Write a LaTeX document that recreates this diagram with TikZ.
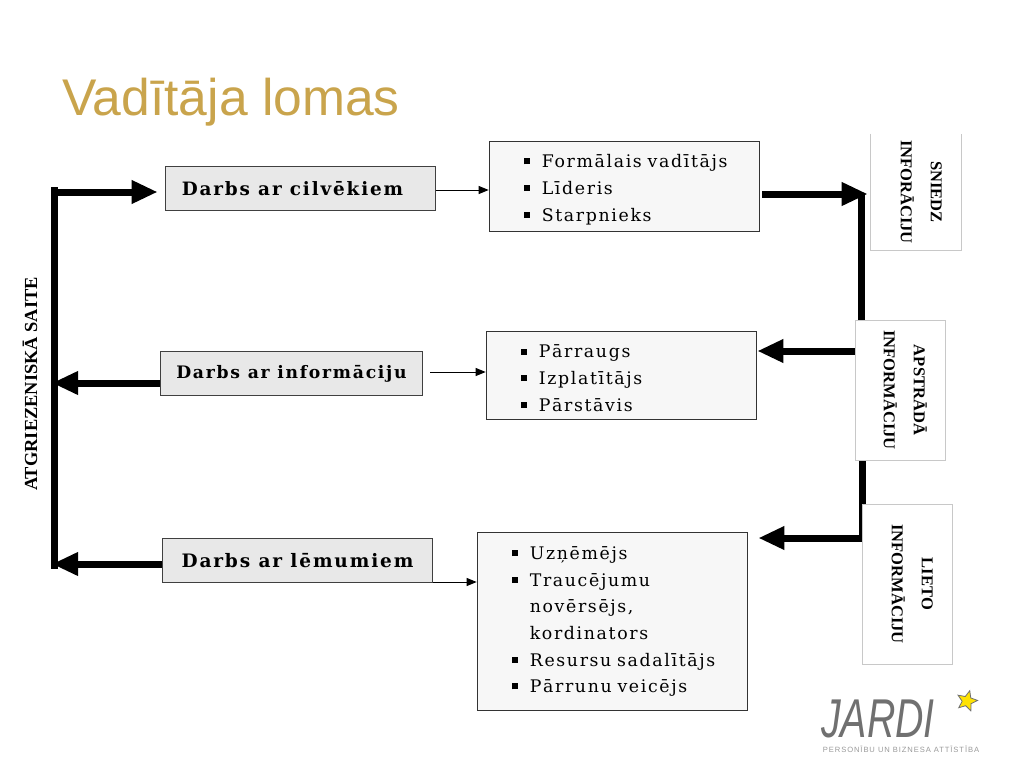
\documentclass[tikz,border=0pt]{standalone}
\usepackage{fontspec}
\usetikzlibrary{arrows.meta,backgrounds,shapes.geometric}
\newfontfamily\sansfont{Liberation Sans}
\newfontfamily\sidefont{Liberation Serif}
\newfontfamily\smallfont[LetterSpace=12]{Liberation Sans}
\newfontfamily\workfont[LetterSpace=10]{DejaVu Serif}
\newfontfamily\rolefont[LetterSpace=9.5]{DejaVu Serif}
\definecolor{titlegold}{HTML}{C9A44C}
\definecolor{logogray}{HTML}{707070}
\definecolor{sidegray}{HTML}{C8C8C8}
\def\blt{\hspace*{13pt}\makebox[13.5pt][l]{\raisebox{2.5pt}{\rule{4.5pt}{4.5pt}}}}
\def\nobl{\hspace*{26.5pt}}
\def\lift{\rule{0pt}{14.5pt}}

\begin{document}
\begin{tikzpicture}[
x=0.75pt,y=-0.75pt,
work/.style={draw=black!75, fill=black!9, line width=0.75pt, minimum height=33.5pt, inner sep=0pt, font=\fontsize{#1}{15pt}\workfont\bfseries},
roles/.style={draw=black!80, fill=black!3, line width=0.75pt, minimum width=203pt, inner xsep=13pt, inner ysep=0pt, text width=177pt, align=left, font=\fontsize{13pt}{20pt}\rolefont},
side/.style={fill=white, rotate=-90, inner sep=0pt, align=center, text depth=8pt, font=\fontsize{12.4pt}{22.5pt}\sidefont\bfseries},
sideline/.style={draw=sidegray, line width=0.75pt},
heavy/.style={line width=5.25pt},
heavytip/.style={heavy, -{Triangle[length=19.5pt,width=16.5pt]}},
thin/.style={line width=0.75pt, -{Triangle[length=7.5pt,width=6pt]}},
]
\useasboundingbox (0,0) rectangle (1024,768);

\node[anchor=base west, font=\fontsize{38.7pt}{40pt}\sansfont, text=titlegold, inner sep=0pt] at (62,115) (title) {Vadītāja lomas};

% Work boxes:
\node[work=13.8pt, minimum width=203pt] at (300.5,188.5) (people) {\hspace*{-12pt}Darbs ar cilvēkiem};
\node[work=12.9pt, minimum width=196pt] at (291.5,373.5) (info) {Darbs ar informāciju};
\node[work=13.9pt, minimum width=203pt] at (297.5,560.5) (decide) {Darbs ar lēmumiem};

% Role boxes:
\node[roles, minimum height=67pt] at (624.5,186.5) (rolesa) {\lift\blt Formālais vadītājs\\\blt Līderis\\\blt Starpnieks};
\node[roles, minimum height=66pt] at (621.5,375) (rolesb) {\lift\blt Pārraugs\\\blt Izplatītājs\\\blt Pārstāvis};
\node[roles, minimum height=134pt] at (612.5,621.5) (rolesc) {\blt Uzņēmējs\\\blt Traucējumu\\\nobl novērsējs,\\\nobl kordinators\\\blt Resursu sadalītājs\\\blt Pārrunu veicējs};

% Side boxes:
\node[side, minimum width=87pt, minimum height=67.5pt] at (916,192) (give) {SNIEDZ\\INFORĀCIJU};
\node[side, draw=sidegray, line width=0.75pt, minimum width=105pt, minimum height=67.5pt] at (900,390) (process) {APSTRĀDĀ\\INFORMĀCIJU};
\node[side, draw=sidegray, line width=0.75pt, minimum width=120pt, minimum height=67.5pt] at (907,584) (use) {LIETO\\INFORMĀCIJU};
\draw[sideline] (give.south west) -- (give.south east) -- (give.north east) -- (give.north west);

\node[rotate=90, inner sep=0pt, font=\fontsize{13.8pt}{14pt}\sidefont\bfseries] at (30,384) (loop) {ATGRIEZENISKĀ SAITE};

\coordinate (looptop) at (54,192);
\coordinate (loopend) at (54,569);
\coordinate (jointop) at (861,194);
\coordinate (joinlow) at (862,538);

% Thick lines:
\begin{pgfonlayer}{background}
\draw[heavy] ([yshift=3.75pt]looptop) -- (loopend);
\draw[heavy] (jointop) -- (jointop |- process.west);
\draw[heavy] (joinlow |- process.east) -- ([yshift=-2.6pt]joinlow);
\draw[heavytip, shorten >=5.25pt] (looptop) -- (looptop -| people.west);
\draw[heavytip, shorten >=-1.5pt] (info.west |- 0,383) -- (looptop |- 0,383);
\draw[heavytip, shorten >=-1.5pt] (decide.west |- 0,564) -- (looptop |- 0,564);
\draw[heavytip, shorten <=1.5pt, shorten >=2.25pt] (rolesa.east |- jointop) -- (give.south |- jointop);
\draw[heavytip, shorten >=0pt] (process.south |- 0,351) -- (rolesb.east |- 0,351);
\draw[heavytip, shorten >=7.5pt] (joinlow) -- (rolesc.east |- joinlow);
\end{pgfonlayer}

% Thin arrows:
\draw[thin] (people.east |- 0,190) -- (rolesa.west |- 0,190);
\draw[thin] (430,372) -- (rolesb.west |- 0,372);
\draw[thin] (decide.east |- 0,582) -- (rolesc.west |- 0,582);

% Logo:
\node[xscale=0.72, inner sep=0pt, anchor=base, text depth=0pt, text=logogray, font=\fontsize{41pt}{44pt}\sansfont\itshape] at (878,737) (logo) {JARDI};
\node[star, star points=5, star point ratio=2.2, rotate=-15, draw=logogray, fill=yellow!85!orange, line width=0.6pt, inner sep=0pt, minimum size=16pt] at (967,701) (logostar) {};
\node[inner sep=0pt, text=black!40, font=\fontsize{5.7pt}{6pt}\smallfont] at (901,749) (logotext) {PERSONĪBU UN BIZNESA ATTĪSTĪBA};
\end{tikzpicture}
\end{document}
